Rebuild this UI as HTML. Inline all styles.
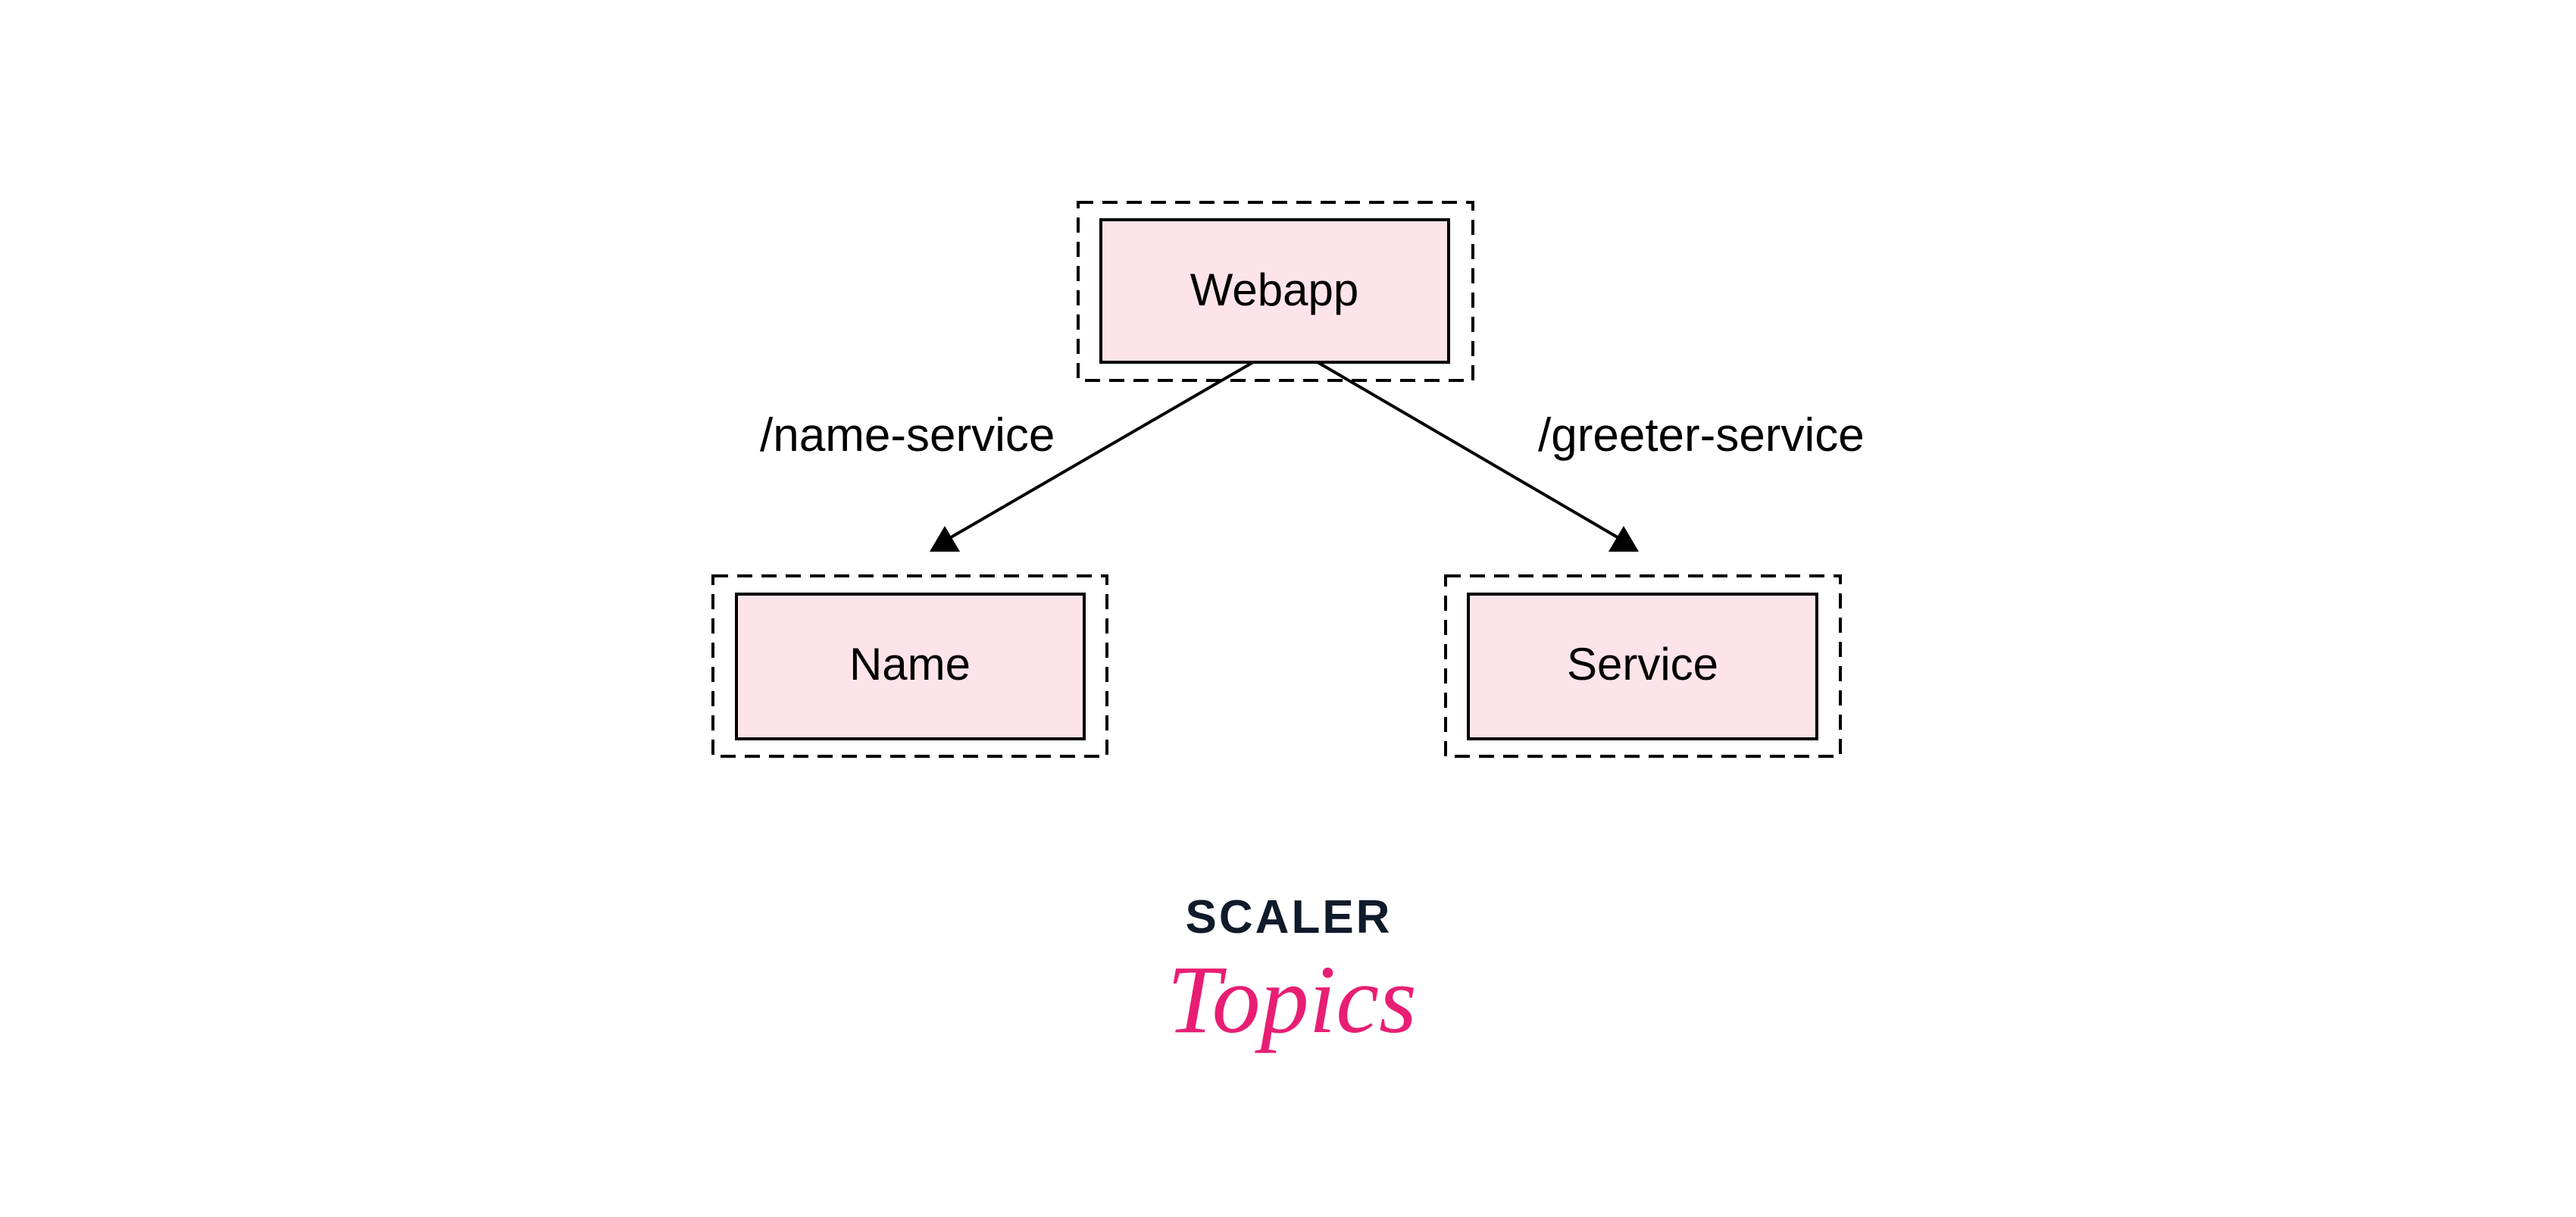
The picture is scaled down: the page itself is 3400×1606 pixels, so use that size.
<!DOCTYPE html>
<html><head><meta charset="utf-8"><style>
html,body{margin:0;padding:0;background:#fff;}
svg{display:block;}
</style></head><body>
<svg width="3400" height="1606" viewBox="0 0 3400 1606" xmlns="http://www.w3.org/2000/svg">
<rect width="3400" height="1606" fill="#fff"/>
<g fill="none" stroke="#000" stroke-width="4" stroke-dasharray="20,12">
<rect x="1423" y="267" width="521" height="235"/>
<rect x="941" y="760" width="520" height="238"/>
<rect x="1908" y="760" width="521" height="238"/>
</g>
<g fill="#fde4e9" stroke="#000" stroke-width="4">
<rect x="1453" y="290" width="459" height="188"/>
<rect x="972" y="784" width="459" height="191"/>
<rect x="1938" y="784" width="460" height="191"/>
</g>
<g stroke="#000" stroke-width="4">
<line x1="1654" y1="478" x2="1250" y2="712"/>
<line x1="1739" y1="478" x2="2140" y2="712"/>
</g>
<polygon points="1247,694 1227,728 1267,728" fill="#000"/>
<polygon points="2143,694 2123,728 2163,728" fill="#000"/>
<g font-family="Liberation Sans, sans-serif" font-size="60" fill="#000" text-anchor="middle">
<text x="1682" y="403">Webapp</text>
<text x="1201" y="897">Name</text>
<text x="2168" y="897">Service</text>
</g>
<g font-family="Liberation Sans, sans-serif" font-size="62" fill="#000">
<text x="1003" y="595">/name-service</text>
<text x="2030" y="595">/greeter-service</text>
</g>
<text x="1701" y="1231" font-family="Liberation Sans, sans-serif" font-weight="bold" font-size="62" letter-spacing="3" fill="#0f1a2b" text-anchor="middle">SCALER</text>
<text x="1705" y="1362" font-family="Liberation Serif, serif" font-style="italic" font-size="128" fill="#e81e74" text-anchor="middle">Topics</text>
</svg>
</body></html>
